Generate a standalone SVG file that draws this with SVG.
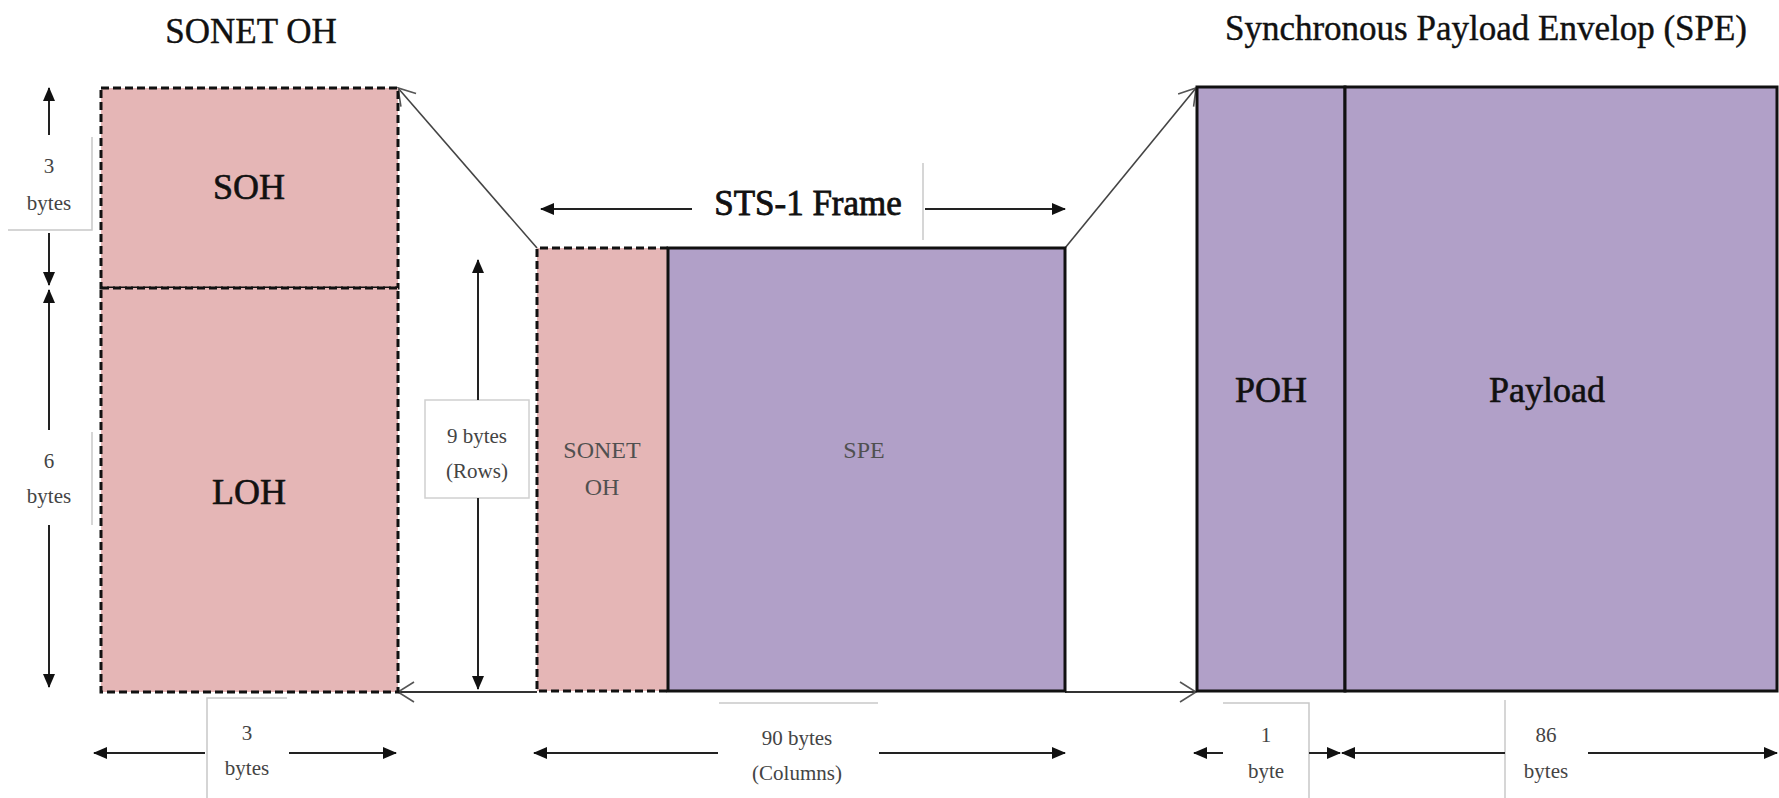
<svg xmlns="http://www.w3.org/2000/svg" width="1779" height="798" viewBox="0 0 1779 798">
<defs>
<style>
.t{font-family:"Liberation Serif","Times New Roman",serif;fill:#111;text-anchor:middle}
.big{font-size:36px;stroke:#111;stroke-width:0.6}
.title{font-size:35px;stroke:#111;stroke-width:0.4}
.mid{font-size:24px;fill:#505050}
.sm{font-size:21px;fill:#444}
.oh{fill:#e5b6b6;stroke:#111;stroke-width:3;stroke-dasharray:8 4}
.spe{fill:#b1a0c8;stroke:#111;stroke-width:3}
.dim{stroke:#222;stroke-width:2;fill:none}
.con{stroke:#444;stroke-width:1.6;fill:none}
.hcon{stroke:#333;stroke-width:2.2;fill:none}
.gl{stroke:#c8c8c8;stroke-width:1.5;fill:none}
</style>
<marker id="ah" viewBox="0 -6 14 12" refX="13" refY="0" markerWidth="14" markerHeight="12" markerUnits="userSpaceOnUse" orient="auto">
<path d="M0,-6 L14,0 L0,6 Z" fill="#111"/>
</marker>
<marker id="oa" viewBox="-17 -12 19 24" refX="0" refY="0" markerWidth="19" markerHeight="24" markerUnits="userSpaceOnUse" orient="auto">
<path d="M-16,-10 L0,0 L-16,10" fill="none" stroke="#555" stroke-width="1.6"/>
</marker>
</defs>
<rect width="1779" height="798" fill="#fff"/>

<text class="t title" x="251" y="43">SONET OH</text>
<text class="t title" x="1486" y="40">Synchronous Payload Envelop (SPE)</text>

<g id="connectors">
<line class="con" x1="537" y1="248" x2="398" y2="88" marker-end="url(#oa)"/>
<line class="con" x1="1065" y1="248" x2="1196" y2="88" marker-end="url(#oa)"/>
<line class="hcon" x1="537" y1="692" x2="398" y2="692" marker-end="url(#oa)"/>
<line class="hcon" x1="1065" y1="692" x2="1196" y2="692" marker-end="url(#oa)"/>
</g>

<g id="soh">
<rect class="oh" x="101" y="88" width="297" height="200"/>
<text class="t big" x="249" y="199">SOH</text>
</g>
<g id="loh">
<rect class="oh" x="101" y="288" width="297" height="404"/>
<text class="t big" x="249" y="504">LOH</text>
</g>

<g id="frame-oh">
<rect x="537" y="248" width="131" height="443" fill="#e5b6b6"/>
<path d="M668,248 H537 V691 H668" fill="none" stroke="#111" stroke-width="3" stroke-dasharray="8 4"/>
<text class="t mid" x="602" y="458">SONET</text>
<text class="t mid" x="602" y="495">OH</text>
</g>
<g id="frame-spe">
<rect class="spe" x="668" y="248" width="397" height="443"/>
<text class="t mid" x="864" y="458">SPE</text>
</g>

<g id="poh">
<rect class="spe" x="1197" y="87" width="148" height="604"/>
<text class="t big" x="1271" y="402">POH</text>
</g>
<g id="payload">
<rect class="spe" x="1345" y="87" width="432" height="604"/>
<text class="t big" x="1547" y="402">Payload</text>
</g>

<g id="dim-3bytes-v">
<path class="gl" d="M92,137 V230 H8"/>
<line class="dim" x1="49" y1="135" x2="49" y2="88" marker-end="url(#ah)"/>
<line class="dim" x1="49" y1="233" x2="49" y2="285" marker-end="url(#ah)"/>
<text class="t sm" x="49" y="173">3</text>
<text class="t sm" x="49" y="210">bytes</text>
</g>
<g id="dim-6bytes-v">
<line class="gl" x1="92" y1="432" x2="92" y2="525"/>
<line class="dim" x1="49" y1="430" x2="49" y2="290" marker-end="url(#ah)"/>
<line class="dim" x1="49" y1="525" x2="49" y2="687" marker-end="url(#ah)"/>
<text class="t sm" x="49" y="468">6</text>
<text class="t sm" x="49" y="503">bytes</text>
</g>
<g id="dim-9bytes">
<rect x="425" y="400" width="104" height="98" fill="#fff" stroke="#d0d0d0" stroke-width="1.5"/>
<line class="dim" x1="478" y1="400" x2="478" y2="260" stroke-width="1.5" marker-end="url(#ah)"/>
<line class="dim" x1="478" y1="498" x2="478" y2="689" stroke-width="1.5" marker-end="url(#ah)"/>
<text class="t sm" x="477" y="443">9 bytes</text>
<text class="t sm" x="477" y="478">(Rows)</text>
</g>
<g id="dim-sts1">
<line class="gl" x1="923" y1="163" x2="923" y2="240"/>
<line class="dim" x1="692" y1="209" x2="541" y2="209" stroke-width="3" marker-end="url(#ah)"/>
<line class="dim" x1="925" y1="209" x2="1065" y2="209" stroke-width="3" marker-end="url(#ah)"/>
<text class="t" x="808" y="215" style="font-size:35px;stroke:#111;stroke-width:0.8">STS-1 Frame</text>
</g>
<g id="dim-3bytes-h">
<path class="gl" d="M287,698 H207 V798"/>
<line class="dim" x1="205" y1="753" x2="94" y2="753" marker-end="url(#ah)"/>
<line class="dim" x1="289" y1="753" x2="396" y2="753" marker-end="url(#ah)"/>
<text class="t sm" x="247" y="740">3</text>
<text class="t sm" x="247" y="775">bytes</text>
</g>
<g id="dim-90bytes">
<line class="gl" x1="719" y1="703" x2="878" y2="703"/>
<line class="dim" x1="718" y1="753" x2="534" y2="753" marker-end="url(#ah)"/>
<line class="dim" x1="879" y1="753" x2="1065" y2="753" marker-end="url(#ah)"/>
<text class="t sm" x="797" y="745">90 bytes</text>
<text class="t sm" x="797" y="780">(Columns)</text>
</g>
<g id="dim-1byte">
<path class="gl" d="M1223,703 H1309 V798"/>
<line class="dim" x1="1223" y1="753" x2="1194" y2="753" marker-end="url(#ah)"/>
<line class="dim" x1="1309" y1="753" x2="1340" y2="753" marker-end="url(#ah)"/>
<text class="t sm" x="1266" y="742">1</text>
<text class="t sm" x="1266" y="778">byte</text>
</g>
<g id="dim-86bytes">
<line class="gl" x1="1505" y1="700" x2="1505" y2="798"/>
<line class="dim" x1="1505" y1="753" x2="1342" y2="753" marker-end="url(#ah)"/>
<line class="dim" x1="1588" y1="753" x2="1777" y2="753" marker-end="url(#ah)"/>
<text class="t sm" x="1546" y="742">86</text>
<text class="t sm" x="1546" y="778">bytes</text>
</g>
</svg>
